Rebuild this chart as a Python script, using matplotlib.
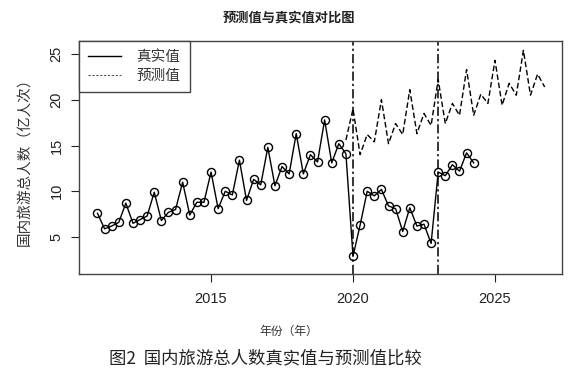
import matplotlib
matplotlib.use("Agg")
import matplotlib.pyplot as plt
from matplotlib.lines import Line2D
import numpy as np

plt.rcParams['font.family'] = ['Liberation Sans', 'Noto Sans CJK SC']

# 真实值: 2011Q1 - 2024Q2, 季度数据 (亿人次)
actual_start = 2011.0
actual = [7.6, 5.9, 6.2, 6.6, 8.7, 6.5, 6.9, 7.3,
          9.9, 6.8, 7.7, 8.0, 11.0, 7.4, 8.8, 8.8,
          12.1, 8.1, 10.0, 9.6, 13.4, 9.0, 11.3, 10.7,
          14.8, 10.6, 12.7, 11.9, 16.3, 11.9, 14.0, 13.2,
          17.8, 13.1, 15.2, 14.1, 2.9, 6.3, 10.0, 9.5,
          10.2, 8.4, 8.1, 5.6, 8.2, 6.2, 6.4, 4.3,
          12.1, 11.7, 12.9, 12.2, 14.2, 13.1]

# 预测值: 2019Q4 - 2026Q4
pred_start = 2019.75
predicted = [15.6, 19.0, 14.0, 16.2, 15.4, 20.0, 15.2, 17.4, 16.2,
             21.1, 16.3, 18.5, 17.2, 22.2, 17.4, 19.6, 18.3,
             23.3, 18.3, 20.6, 19.6, 24.3, 19.4, 21.8, 20.5,
             25.4, 20.5, 22.8, 21.4]

breaks = [2020, 2023]
x_ticks = [2015, 2020, 2025]
y_ticks = [5, 10, 15, 20, 25]

x_act = actual_start + 0.25 * np.arange(len(actual))
x_pred = pred_start + 0.25 * np.arange(len(predicted))

fig = plt.figure(figsize=(5.77, 3.77), dpi=100)
ax = fig.add_axes([79 / 577, 1 - 274 / 377, (562 - 79) / 577, (274 - 41) / 377])

pred_style = (0, (4, 2))
ax.plot(x_act, actual, color='black', lw=1.0, marker='o', ms=5.8,
        mfc='none', mec='black', mew=1.0)
ax.plot(x_pred, predicted, color='black', lw=1.0, ls=pred_style)
for b in breaks:
    ax.axvline(b, color='black', lw=1.1, ls=(0, (6, 2, 1.5, 2)))

ax.set_xlim(2010.35, 2027.36)
ax.set_ylim(0.96, 26.42)
ax.set_xticks(x_ticks)
ax.set_yticks(y_ticks)
ax.tick_params(direction='out', length=6, width=0.8, labelsize=10.5, colors='#222222')
ax.tick_params(axis='x', pad=7)
ax.tick_params(axis='y', pad=5)
for lab in ax.get_yticklabels():
    lab.set_rotation(90)
    lab.set_va('center')
for s in ax.spines.values():
    s.set_color('#444444')
    s.set_linewidth(1.0)

handles = [Line2D([], [], color='black', lw=1.0),
           Line2D([], [], color='#555555', lw=0.8, ls=(0, (2, 1.5)))]
leg = ax.legend(handles, ['真实值', '预测值'], loc='upper left', bbox_to_anchor=(0, 1),
                borderaxespad=0, fancybox=False, edgecolor='#444444', framealpha=1,
                handlelength=2.2, handletextpad=1.1, borderpad=0.65,
                labelspacing=0.3, prop={'family': ['Noto Sans CJK SC'], 'size': 10.5})
leg.get_frame().set_linewidth(1.0)
for t in leg.get_texts():
    t.set_color('#333333')

fig.text(0.5, 1 - 18 / 377, '预测值与真实值对比图', ha='center', va='center',
         fontsize=9.5, fontweight='bold', family=['Noto Sans CJK SC'], color='#222222')
fig.text(0.5, 1 - 331 / 377, '年份（年）', ha='center', va='center',
         fontsize=8.5, family=['Noto Sans CJK SC'], color='#333333')
fig.text(24 / 577, 1 - 158 / 377, '国内旅游总人数（亿人次）', ha='center', va='center',
         rotation=90, fontsize=10.5, family=['Noto Sans CJK SC'], color='#333333')
fig.text(265 / 577, 1 - 358 / 377, '图2  国内旅游总人数真实值与预测值比较', ha='center', va='center',
         fontsize=12.5, family=['Noto Sans CJK SC', 'Liberation Sans'], color='#222222')

fig.savefig('out.png', dpi=100)
